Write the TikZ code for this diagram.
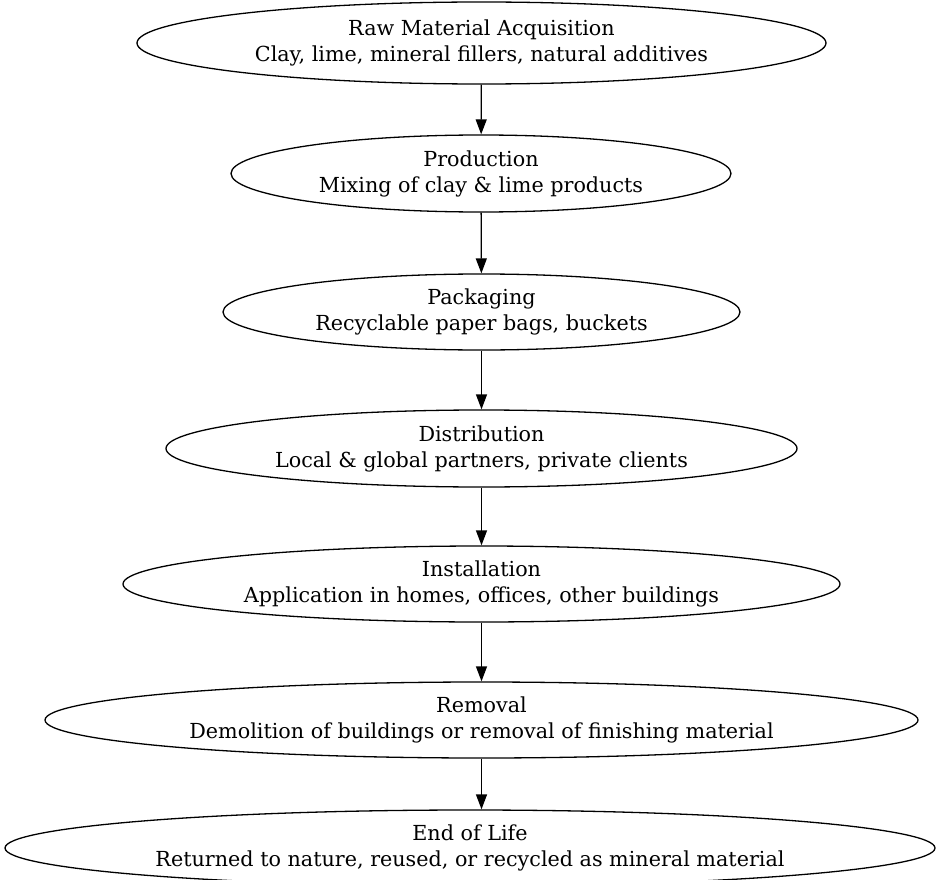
\documentclass[tikz,border=0pt]{standalone}
\usepackage{fontspec}
\setmainfont{DejaVu Serif}
\usetikzlibrary{shapes.geometric,arrows.meta}
\tikzset{
  stage/.style={ellipse, draw=black, line width=1.3pt, inner sep=0pt, align=center,
    font=\fontsize{20.7}{26}\selectfont},
  flow/.style={draw=black, line width=1.3pt, -{Triangle[length=15pt,width=11pt]}}
}
\begin{document}
\begin{tikzpicture}[x=1pt,y=-1pt]
\useasboundingbox (0,0) rectangle (940,880);
\node[stage, minimum width=689pt, minimum height=82pt] (raw) at (481.5,43) {Raw Material Acquisition\\Clay, lime, mineral fillers, natural additives};
\node[stage, minimum width=500pt, minimum height=77pt] (prod) at (481,173.5) {Production\\Mixing of clay \& lime products};
\node[stage, minimum width=517pt, minimum height=76pt] (pack) at (481.5,312) {Packaging\\Recyclable paper bags, buckets};
\node[stage, minimum width=631pt, minimum height=77pt] (dist) at (481.5,448.5) {Distribution\\Local \& global partners, private clients};
\node[stage, minimum width=717pt, minimum height=76pt] (inst) at (481.5,584) {Installation\\Application in homes, offices, other buildings};
\node[stage, minimum width=873pt, minimum height=76pt] (rem) at (481.5,720) {Removal\\Demolition of buildings or removal of finishing material};
\node[stage, minimum width=930pt, minimum height=76pt] (eol) at (470,848) {End of Life\\Returned to nature, reused, or recycled as mineral material};
\draw[flow] (raw) -- (prod);
\draw[flow] (prod) -- (pack);
\draw[flow] (pack) -- (dist);
\draw[flow] (dist) -- (inst);
\draw[flow] (inst) -- (rem);
\draw[flow] (rem) -- (eol.north -| rem.south);
\end{tikzpicture}
\end{document}
